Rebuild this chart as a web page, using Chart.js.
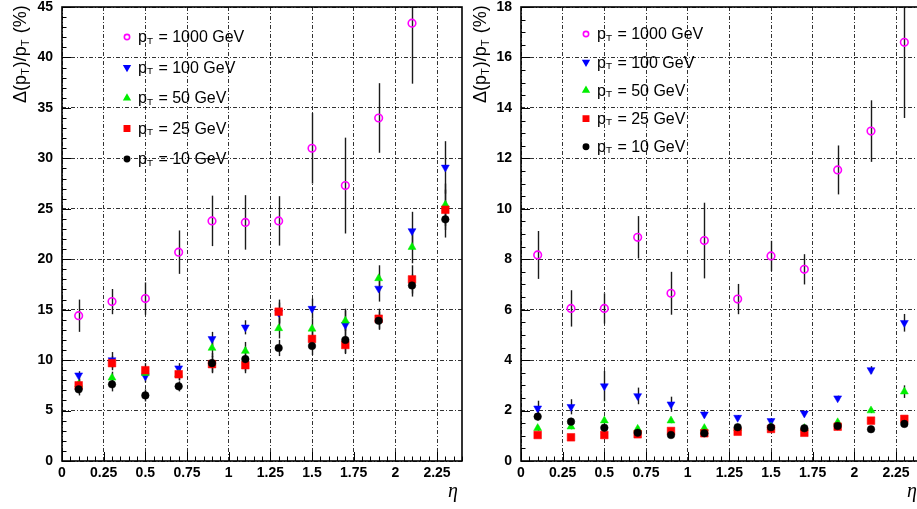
<!DOCTYPE html>
<html>
<head>
<meta charset="utf-8">
<title>pT resolution vs eta</title>
<script src="https://cdn.jsdelivr.net/npm/chart.js@4.4.0/dist/chart.umd.min.js"></script>
<style>
    html, body { margin: 0; padding: 0; background: #fff; overflow: hidden; }
    body { width: 917px; height: 509px; position: relative; }
    .panel { position: absolute; top: 0; width: 470px; height: 509px; }
    #leftPanel { left: 0; }
    #rightPanel { left: 459px; }
</style>
</head>
<body>
<div class="panel" id="leftPanel"><canvas id="leftChart" width="470" height="509"></canvas></div>
<div class="panel" id="rightPanel"><canvas id="rightChart" width="470" height="509"></canvas></div>
<script>
// eta bin centres (shared by both panels)
const eta = [0.1, 0.3, 0.5, 0.7, 0.9, 1.1, 1.3, 1.5, 1.7, 1.9, 2.1, 2.3];
const seriesNames = ['1000', '100', '50', '25', '10'];

// Left panel: Delta(pT)/pT in %
const res1000L = [14.4, 15.8, 16.1, 20.7, 23.8, 23.65, 23.8, 31.0, 27.3, 34.0, 43.4, null];
const err1000L = [1.6, 1.25, 1.6, 2.15, 2.5, 2.7, 2.45, 3.5, 4.75, 3.45, 6.0, null];
const res100L = [8.5, 10.0, 8.4, 9.2, 12.1, 13.25, 14.7, 15.1, 13.5, 17.1, 22.8, 29.1];
const err100L = [0.4, 0.8, 0.6, 0.5, 0.7, 0.7, 1.0, 1.0, 1.6, 1.3, 1.9, 2.6];
const res50L = [7.6, 8.25, 8.7, 8.6, 11.2, 10.9, 13.15, 13.1, 13.9, 18.1, 21.2, 25.4];
const err50L = [0.5, 0.6, 0.6, 0.6, 0.9, 0.9, 1.0, 1.0, 1.0, 1.3, 1.6, 2.1];
const res25L = [7.5, 9.7, 9.0, 8.6, 9.6, 9.5, 14.8, 12.1, 11.5, 14.1, 18.0, 24.9];
const err25L = [0.6, 0.7, 0.7, 0.6, 0.8, 0.8, 1.2, 1.0, 0.9, 1.0, 1.4, 2.0];
const res10L = [7.1, 7.6, 6.5, 7.4, 9.7, 10.1, 11.2, 11.4, 12.0, 13.9, 17.4, 23.95];
const err10L = [0.6, 0.7, 0.6, 0.5, 1.0, 1.2, 0.8, 0.9, 1.3, 0.9, 1.1, 1.8];

// Right panel
const res1000R = [8.17, 6.05, 6.05, 8.87, 6.65, 8.74, 6.42, 8.13, 7.6, 11.54, 13.08, 16.6];
const err1000R = [0.95, 0.72, 0.6, 0.84, 0.85, 1.5, 0.6, 0.6, 0.6, 0.97, 1.22, 3.0];
const res100R = [2.09, 2.15, 2.97, 2.58, 2.25, 1.85, 1.72, 1.59, 1.89, 2.49, 3.61, 5.48];
const err100R = [0.3, 0.3, 0.6, 0.33, 0.3, 0.12, 0.1, 0.1, 0.1, 0.1, 0.15, 0.35];
const res50R = [1.3, 1.36, 1.6, 1.27, 1.6, 1.3, 1.3, 1.35, 1.3, 1.53, 2.0, 2.75];
const err50R = [0.1, 0.1, 0.1, 0.1, 0.1, 0.1, 0.1, 0.1, 0.1, 0.1, 0.1, 0.25];
const res25R = [1.03, 0.94, 1.03, 1.06, 1.19, 1.1, 1.16, 1.27, 1.12, 1.36, 1.6, 1.67];
const err25R = [0.08, 0.08, 0.08, 0.08, 0.08, 0.08, 0.08, 0.08, 0.08, 0.08, 0.08, 0.08];
const res10R = [1.76, 1.56, 1.32, 1.12, 1.03, 1.1, 1.34, 1.34, 1.3, 1.39, 1.26, 1.47];
const err10R = [0.15, 0.15, 0.1, 0.1, 0.1, 0.1, 0.1, 0.1, 0.1, 0.1, 0.1, 0.1];

// Axis ticks
const xMax = 2.4;
const xTickValues = [0, 0.25, 0.5, 0.75, 1, 1.25, 1.5, 1.75, 2, 2.25];
const leftYMax = 45, leftYStep = 5;
const rightYMax = 18, rightYStep = 2;

// marker styles per series (pT = 1000, 100, 50, 25, 10)
const markerStyles = {
    '1000': { pointStyle: 'circle', radius: 3.8, rotation: 0, color: '#ff00ff', open: true },
    '100':  { pointStyle: 'triangle', radius: 4.6, rotation: 180, color: '#0000ff' },
    '50':   { pointStyle: 'triangle', radius: 4.6, rotation: 0, color: '#00ee00' },
    '25':   { pointStyle: 'rect', radius: 5.4, rotation: 0, color: '#ff0000' },
    '10':   { pointStyle: 'circle', radius: 3.8, rotation: 0, color: '#000000' }
};

const FONT = '"Liberation Sans", Arial, sans-serif';

function toPoints(values) {
    return eta.map((e, i) => ({ x: e, y: values[i] }));
}

function makeDataset(name, values, errors) {
    const m = markerStyles[name];
    return {
        label: 'pT = ' + name + ' GeV',
        data: toPoints(values),
        errors: errors,
        showLine: false,
        pointStyle: m.pointStyle,
        pointRadius: m.radius,
        pointRotation: m.rotation,
        pointBackgroundColor: m.open ? 'rgba(0,0,0,0)' : m.color,
        pointBorderColor: m.color,
        pointBorderWidth: m.open ? 1.6 : 0.5
    };
}

// vertical error bars behind the markers
const errorBarPlugin = {
    id: 'errorBars',
    beforeDatasetsDraw(chart) {
        const { ctx, chartArea: a, scales: { x, y } } = chart;
        ctx.save();
        ctx.beginPath();
        ctx.rect(a.left, a.top, a.right - a.left, a.bottom - a.top);
        ctx.clip();
        ctx.strokeStyle = '#1a1a1a';
        ctx.lineWidth = 1.4;
        chart.data.datasets.forEach(ds => {
            ds.data.forEach((p, i) => {
                const e = ds.errors[i];
                if (p.y == null || !e) return;
                const px = Math.round(x.getPixelForValue(p.x)) + 0.5;
                ctx.beginPath();
                ctx.moveTo(px, y.getPixelForValue(p.y - e));
                ctx.lineTo(px, y.getPixelForValue(p.y + e));
                ctx.stroke();
            });
        });
        ctx.restore();
    }
};

// draw text made of normal and subscript pieces, left to right from (0,0)
function drawParts(ctx, parts, size) {
    let cx = 0;
    parts.forEach(([txt, sub]) => {
        ctx.font = (sub ? size * 0.62 : size) + 'px ' + FONT;
        ctx.fillText(txt, cx, sub ? size * 0.18 : 0);
        cx += ctx.measureText(txt).width + (sub ? 1 : 0);
    });
}

// ROOT-like frame, inward ticks, axis titles and legend
const framePlugin = {
    id: 'rootFrame',
    afterDraw(chart, args, opts) {
        const { ctx, chartArea: a, scales: { x, y } } = chart;
        ctx.save();

        // tick marks
        ctx.strokeStyle = '#000';
        ctx.lineWidth = 1;
        ctx.beginPath();
        const nx = Math.round(x.max / opts.xMinor);
        for (let i = 0; i <= nx; i++) {
            const px = Math.round(x.getPixelForValue(i * opts.xMinor)) + 0.5;
            const len = (i % 5 === 0) ? 9 : 4.5;
            ctx.moveTo(px, a.bottom);
            ctx.lineTo(px, a.bottom - len);
        }
        const ny = Math.round(y.max / opts.yMinor);
        const per = Math.round(opts.yMajor / opts.yMinor);
        for (let i = 0; i <= ny; i++) {
            const py = Math.round(y.getPixelForValue(i * opts.yMinor)) + 0.5;
            const len = (i % per === 0) ? 9 : 4.5;
            ctx.moveTo(a.left, py);
            ctx.lineTo(a.left + len, py);
        }
        ctx.stroke();

        // frame
        ctx.lineWidth = 1.6;
        ctx.strokeRect(a.left, a.top, a.right - a.left, a.bottom - a.top);

        ctx.fillStyle = '#000';
        ctx.textBaseline = 'alphabetic';
        ctx.textAlign = 'left';

        // y title, rotated
        ctx.save();
        ctx.translate(opts.titleX, opts.titleBottom);
        ctx.rotate(-Math.PI / 2);
        drawParts(ctx, [['\u0394(p', false], ['T', true], [')/p', false], ['T', true], [' (%)', false]], 18);
        ctx.restore();

        // eta title
        ctx.font = 'italic 20px "Liberation Serif", serif';
        ctx.textAlign = 'center';
        ctx.fillText('\u03B7', a.right - 9, 497);

        // legend
        ctx.textAlign = 'left';
        ctx.textBaseline = 'middle';
        seriesNames.forEach((name, i) => {
            const m = markerStyles[name];
            const ly = opts.legendTop + i * opts.legendStep;
            ctx.save();
            ctx.fillStyle = m.open ? 'rgba(0,0,0,0)' : m.color;
            ctx.strokeStyle = m.color;
            Chart.helpers.drawPoint(ctx, {
                pointStyle: m.pointStyle,
                radius: m.radius * 0.7,
                rotation: m.rotation,
                borderWidth: m.open ? 1.3 : 0.5
            }, 127, ly);
            ctx.restore();
            ctx.save();
            ctx.translate(138, ly + 1);
            drawParts(ctx, [['p', false], ['T', true], [' = ' + name + ' GeV', false]], 16);
            ctx.restore();
        });

        ctx.restore();
    }
};

function buildChart(canvasId, seriesList, yMax, yStep, extra) {
    const datasets = [];
    // first dataset ends up on top, so black pT = 10 goes first
    for (let i = seriesList.length - 1; i >= 0; i--) {
        const s = seriesList[i];
        datasets.push(makeDataset(s.name, s.values, s.errors));
    }
    return new Chart(document.getElementById(canvasId), {
        type: 'scatter',
        data: { datasets: datasets },
        plugins: [errorBarPlugin, framePlugin],
        options: {
            responsive: false,
            animation: false,
            layout: { padding: { top: 7, right: 8, left: 0, bottom: 0 } },
            plugins: {
                legend: { display: false },
                tooltip: { enabled: false },
                rootFrame: Object.assign({ xMinor: 0.05, yMajor: yStep }, extra)
            },
            scales: {
                x: {
                    type: 'linear',
                    min: 0,
                    max: xMax,
                    afterBuildTicks: scale => {
                        scale.ticks = xTickValues.map(v => ({ value: v }));
                    },
                    afterFit: scale => {
                        scale.height = 48;
                        scale.paddingLeft = 0;
                        scale.paddingRight = 0;
                    },
                    ticks: {
                        padding: 4,
                        maxRotation: 0,
                        autoSkip: false,
                        color: '#000',
                        font: { family: FONT, size: 14, weight: 'bold' },
                        callback: v => String(+v.toFixed(2))
                    },
                    grid: { color: 'rgba(0,0,0,0.8)', lineWidth: 1, drawTicks: false },
                    border: { display: false, dash: [4, 2, 1, 2] }
                },
                y: {
                    type: 'linear',
                    min: 0,
                    max: yMax,
                    afterFit: scale => {
                        scale.width = 62;
                        scale.paddingTop = 0;
                        scale.paddingBottom = 0;
                    },
                    ticks: {
                        stepSize: yStep,
                        padding: 9,
                        color: '#000',
                        font: { family: FONT, size: 14, weight: 'bold' }
                    },
                    grid: { color: 'rgba(0,0,0,0.8)', lineWidth: 1, drawTicks: false },
                    border: { display: false, dash: [4, 2, 1, 2] }
                }
            }
        }
    });
}

buildChart('leftChart', [
    { name: '1000', values: res1000L, errors: err1000L },
    { name: '100', values: res100L, errors: err100L },
    { name: '50', values: res50L, errors: err50L },
    { name: '25', values: res25L, errors: err25L },
    { name: '10', values: res10L, errors: err10L }
], leftYMax, leftYStep, { yMinor: 1, titleX: 26, titleBottom: 103, legendTop: 37, legendStep: 30.5 });

buildChart('rightChart', [
    { name: '1000', values: res1000R, errors: err1000R },
    { name: '100', values: res100R, errors: err100R },
    { name: '50', values: res50R, errors: err50R },
    { name: '25', values: res25R, errors: err25R },
    { name: '10', values: res10R, errors: err10R }
], rightYMax, rightYStep, { yMinor: 0.5, titleX: 27, titleBottom: 103, legendTop: 34, legendStep: 28.2 });
</script>
</body>
</html>
